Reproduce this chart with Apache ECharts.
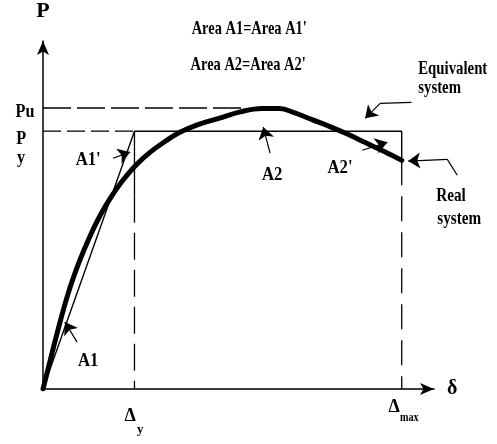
<!DOCTYPE html>
<html>
<head>
<meta charset="utf-8">
<script src="https://cdn.jsdelivr.net/npm/echarts/dist/echarts.min.js"></script>
<style>
html, body { margin: 0; padding: 0; background: #fff; }
#c { width: 497px; height: 444px; }
</style>
</head>
<body>
<div id="c"></div>
<script>
// Real system: load P against deflection δ
const realDelta = [0, 0.2, 0.4, 0.7, 1.0, 1.3, 1.6, 1.9, 2.2, 2.6, 3.0, 3.4, 3.8, 4.3, 4.9, 5.5, 6.1, 6.6, 7.0, 7.5, 8.0, 8.5, 9.0, 9.5, 10];
const realLoad  = [0, 1.1, 2.2, 3.7, 4.9, 5.9, 6.75, 7.45, 8.05, 8.7, 9.2, 9.6, 9.95, 10.25, 10.5, 10.75, 10.88, 10.88, 10.72, 10.45, 10.18, 9.88, 9.55, 9.22, 8.87];

// Characteristic values
const deltaY = 2.55;
const deltaMax = 10;
const loadY = 10;
const loadU = 10.9;
const loadEnd = 8.87;

// Equivalent bilinear system
const equivDelta = [0, deltaY, deltaMax, deltaMax];
const equivLoad  = [0, loadY, loadY, loadEnd];

const FONT = "'Liberation Serif', 'Times New Roman', serif";
const zip = (xs, ys) => xs.map((x, i) => [x, ys[i]]);

function guide(data, type, dash, width) {
  return {
    type: 'line', data, symbol: 'none', silent: true, animation: false,
    lineStyle: { color: '#000', width: width || 1.3, type: type === 'dashed' ? dash : 'solid' }
  };
}

// Annotation leaders in δ–P units: plain legs, then the arrowed legs
const leaderLegs = [
  [[10.27, 11.12], [9.40, 11.08]],   // Equivalent system
  [[11.55, 8.29], [11.27, 8.91]]     // Real system
];
const arrowLegs = [
  [[0.95, 1.82], [0.61, 2.60]],      // A1
  [[1.95, 8.95], [2.43, 9.19]],      // A1'
  [[6.33, 9.15], [6.14, 10.16]],     // A2
  [[8.90, 9.26], [9.60, 9.57]],      // A2'
  [[9.40, 11.08], [8.98, 10.50]],    // Equivalent system
  [[11.27, 8.91], [10.18, 8.84]]     // Real system
];

const option = {
  animation: false,
  backgroundColor: '#fff',
  grid: { left: 43, right: 63, top: 41, bottom: 55, containLabel: false, outerBoundsMode: 'none' },
  xAxis: {
    type: 'value', min: 0, max: 10.9,
    name: 'δ', nameLocation: 'end', nameGap: 13,
    nameTextStyle: { fontFamily: FONT, fontSize: 20, fontWeight: 'bold', color: '#000', verticalAlign: 'middle', align: 'left' },
    axisLine: { show: true, onZero: false, symbol: ['none', 'arrow'], symbolSize: [9, 14], lineStyle: { color: '#000', width: 1.5 } },
    axisTick: { show: false }, axisLabel: { show: false }, splitLine: { show: false }
  },
  yAxis: {
    type: 'value', min: 0, max: 13.5,
    name: 'P', nameLocation: 'end', nameGap: 19,
    nameTextStyle: { fontFamily: FONT, fontSize: 22, fontWeight: 'bold', color: '#000', align: 'center', verticalAlign: 'bottom' },
    axisLine: { show: true, onZero: false, symbol: ['none', 'arrow'], symbolSize: [9, 14], lineStyle: { color: '#000', width: 1.5 } },
    axisTick: { show: false }, axisLabel: { show: false }, splitLine: { show: false }
  },
  series: [
    guide([[0, loadU], [5.6, loadU]], 'dashed', [28, 6]),
    guide([[0, loadY], [deltaY, loadY]], 'dashed', [18, 6]),
    guide([[deltaY, loadY], [deltaY, 7.5]], 'solid'),
    guide([[deltaY, 7.5], [deltaY, 0]], 'dashed', [27, 10]),
    guide([[deltaMax, loadEnd], [deltaMax, 0]], 'dashed', [25, 11]),
    guide(zip(equivDelta, equivLoad), 'solid', null, 1.4),
    {
      type: 'line', data: zip(realDelta, realLoad), symbol: 'none', silent: true,
      smooth: 0.4,
      lineStyle: { color: '#000', width: 5, cap: 'round', join: 'round' }
    },
    {
      type: 'lines', coordinateSystem: 'cartesian2d', clip: false, silent: true,
      symbol: 'none',
      lineStyle: { color: '#000', width: 1.2, opacity: 1 },
      data: leaderLegs.map(p => ({ coords: p }))
    },
    {
      type: 'lines', coordinateSystem: 'cartesian2d', clip: false, silent: true,
      symbol: ['none', 'arrow'], symbolSize: 12,
      lineStyle: { color: '#000', width: 1.2, opacity: 1 },
      data: arrowLegs.map(p => ({ coords: p }))
    }
  ]
};

const chart = echarts.init(document.getElementById('c'));
chart.setOption(option);

// Text annotations, anchored in δ–P units
const labels = [
  { text: "Area A1=Area A1'", at: [5.75, 13.95], size: 19, sx: 0.76 },
  { text: "Area A2=Area A2'", at: [5.72, 12.56], size: 19, sx: 0.76 },
  { text: 'Equivalent', at: [10.46, 12.40], size: 18.5, sx: 0.8, align: 'left' },
  { text: 'system', at: [10.46, 11.67], size: 18.5, sx: 0.8, align: 'left' },
  { text: 'Real', at: [10.96, 7.48], size: 19, sx: 0.8, align: 'left' },
  { text: 'system', at: [10.99, 6.59], size: 19, sx: 0.8, align: 'left' },
  { text: 'A1', at: [1.26, 1.09], size: 19, sx: 0.88 },
  { text: "A1'", at: [1.26, 8.88], size: 19, sx: 0.88 },
  { text: 'A2', at: [6.39, 8.29], size: 19, sx: 0.88 },
  { text: "A2'", at: [8.28, 8.57], size: 19, sx: 0.88 },
  { text: 'Pu', at: [-0.50, 10.74], size: 18, sx: 0.9 },
  { text: 'P', at: [-0.61, 9.69], size: 18, sx: 0.9 },
  { text: 'y', at: [-0.61, 8.95], size: 18, sx: 0.9 },
  { text: 'Δ', at: [2.43, -1.05], size: 18, sx: 1 },
  { text: 'y', at: [2.71, -1.59], size: 13, sx: 1 },
  { text: 'Δ', at: [9.79, -0.70], size: 18, sx: 1 },
  { text: 'max', at: [10.21, -1.12], size: 12, sx: 0.85 }
];

chart.setOption({
  graphic: labels.map(l => {
    const p = chart.convertToPixel({ gridIndex: 0 }, l.at);
    return {
      type: 'text', x: p[0], y: p[1], scaleX: l.sx, scaleY: 1, silent: true, z: 10,
      style: {
        text: l.text, fill: '#000',
        font: 'bold ' + l.size + 'px ' + FONT,
        align: l.align || 'center', verticalAlign: 'middle'
      }
    };
  })
});
</script>
</body>
</html>
